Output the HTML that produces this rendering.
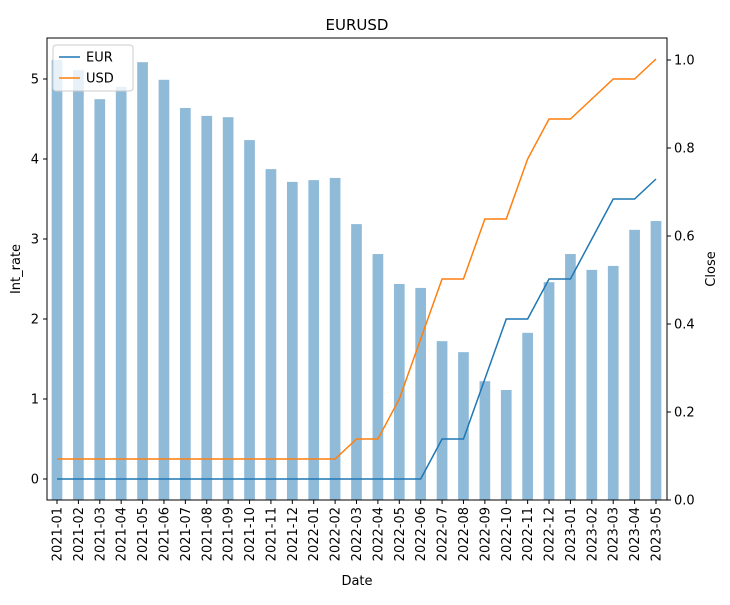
<!DOCTYPE html>
<html><head><meta charset="utf-8"><style>
body{margin:0;background:#fff;font-family:"Liberation Sans","DejaVu Sans",sans-serif;}
svg text{font-family:"DejaVu Sans","Liberation Sans",sans-serif;}
</style></head><body>
<svg id="chart" width="730" height="600" xmlns="http://www.w3.org/2000/svg">
<rect width="730" height="600" fill="#fff"/>
<text x="357" y="30" font-size="15" text-anchor="middle">EURUSD</text>
<g id="bars"></g><g id="lines"></g><g id="axes"></g>
</svg>
<script>
const categories=["2021-01","2021-02","2021-03","2021-04","2021-05","2021-06","2021-07","2021-08","2021-09","2021-10","2021-11","2021-12","2022-01","2022-02","2022-03","2022-04","2022-05","2022-06","2022-07","2022-08","2022-09","2022-10","2022-11","2022-12","2023-01","2023-02","2023-03","2023-04","2023-05"];
const closeValues=[1.0,0.977,0.911,0.939,0.995,0.955,0.891,0.873,0.870,0.818,0.752,0.723,0.727,0.732,0.627,0.559,0.491,0.482,0.361,0.336,0.270,0.250,0.380,0.495,0.559,0.523,0.532,0.614,0.634];
const eurRates=[0,0,0,0,0,0,0,0,0,0,0,0,0,0,0,0,0,0,0.5,0.5,1.25,2.0,2.0,2.5,2.5,3.0,3.5,3.5,3.75];
const usdRates=[0.25,0.25,0.25,0.25,0.25,0.25,0.25,0.25,0.25,0.25,0.25,0.25,0.25,0.25,0.5,0.5,1.0,1.75,2.5,2.5,3.25,3.25,4.0,4.5,4.5,4.75,5.0,5.0,5.25];
const leftTicks=[0,1,2,3,4,5];
const rightTicks=["0.0","0.2","0.4","0.6","0.8","1.0"];

const NS="http://www.w3.org/2000/svg";
const L=47,R=667,T=38,B=500;
const step=(656-57)/(categories.length-1);
const xPos=i=>57+i*step;
const yLeft=v=>479-v*80;
const yRight=v=>500-v*440;
function mk(tag,attrs,parent){const e=document.createElementNS(NS,tag);for(const k in attrs)e.setAttribute(k,attrs[k]);parent.appendChild(e);return e;}
const bars=document.getElementById('bars'),lines=document.getElementById('lines'),axes=document.getElementById('axes');
const bw=step*0.5;
closeValues.forEach((v,i)=>{
 const r=mk('rect',{x:xPos(i)-bw/2,y:yRight(v),width:bw,height:500-yRight(v),fill:'#8fbbd9'},bars);
 
 
});
function line(vals,color,name){
 const p=mk('polyline',{points:vals.map((v,i)=>xPos(i)+','+yLeft(v)).join(' '),fill:'none',stroke:color,'stroke-width':1.5},lines);
 
 
}
line(eurRates,'#1f77b4','eur-line');
line(usdRates,'#ff7f0e','usd-line');
const frame=mk('rect',{x:L,y:T,width:R-L,height:B-T,fill:'none',stroke:'#000','stroke-width':1},axes);


leftTicks.forEach(v=>{
 const y=yLeft(v);
 mk('line',{x1:L-4,x2:L,y1:y,y2:y,stroke:'#000'},axes);
 const t=mk('text',{x:L-8,y:y+4.5,'font-size':13,'text-anchor':'end'},axes);t.textContent=v;
 
 
});
rightTicks.forEach(v=>{
 const y=yRight(parseFloat(v));
 mk('line',{x1:R,x2:R+4,y1:y,y2:y,stroke:'#000'},axes);
 const t=mk('text',{x:R+7,y:y+4.5,'font-size':13},axes);t.textContent=v;
 
 
});
categories.forEach((c,i)=>{
 const x=xPos(i);
 mk('line',{x1:x,x2:x,y1:B,y2:B+4,stroke:'#000'},axes);
 const t=mk('text',{x:0,y:0,'font-size':13,'text-anchor':'end',transform:`translate(${x+4.5},${B+7}) rotate(-90)`},axes);t.textContent=c;
 
 
});
</script>
<svg style="position:absolute;left:0;top:0" width="730" height="600" xmlns="http://www.w3.org/2000/svg">
<text x="357" y="585" font-size="13" text-anchor="middle" font-family="DejaVu Sans">Date</text>
<text transform="translate(20,269) rotate(-90)" font-size="13" text-anchor="middle" font-family="DejaVu Sans">Int_rate</text>
<text transform="translate(715,269) rotate(-90)" font-size="13" text-anchor="middle" font-family="DejaVu Sans">Close</text>
<g>
<rect x="53" y="45" width="80" height="46" rx="3" fill="#fff" fill-opacity="0.8" stroke="#ccc"/>
<line x1="59" x2="80" y1="57" y2="57" stroke="#1f77b4" stroke-width="1.5"/>
<text x="86" y="61.5" font-size="13" font-family="DejaVu Sans">EUR</text>
<line x1="59" x2="80" y1="78" y2="78" stroke="#ff7f0e" stroke-width="1.5"/>
<text x="86" y="82.5" font-size="13" font-family="DejaVu Sans">USD</text>
</g>
</svg>
</body></html>
